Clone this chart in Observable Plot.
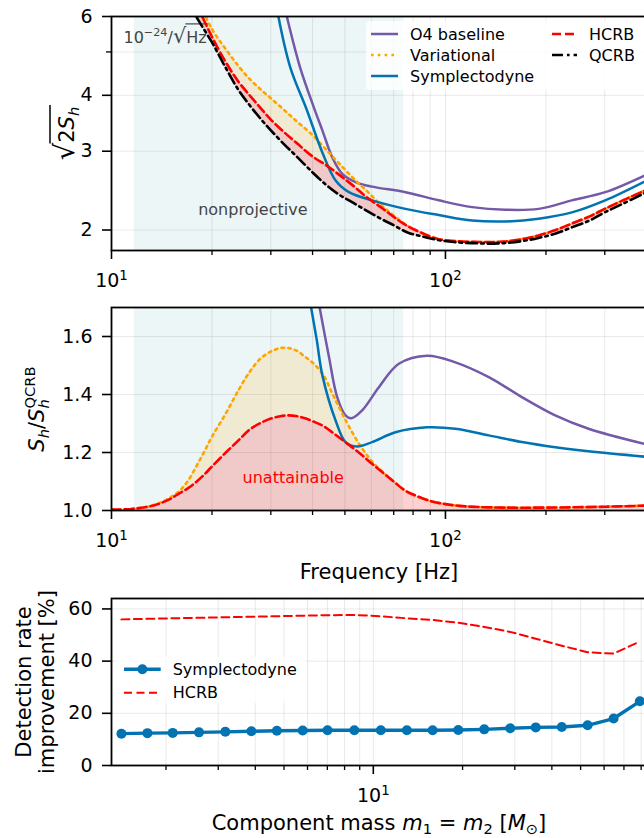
<!DOCTYPE html>
<html><head><meta charset="utf-8">
<script src="https://cdn.jsdelivr.net/npm/d3@7"></script>
<script src="https://cdn.jsdelivr.net/npm/@observablehq/plot@0.6"></script>
<style>
html,body{margin:0;padding:0;background:#fff;overflow:hidden;width:644px;height:838px}
#chart{width:700px}
#chart svg{display:block;max-width:none !important;width:700px !important}
</style></head><body><div id="chart"></div>
<script>
// ================= DATA =================
const freqDomain = [10, 400];
const nonprojectiveBand = [11.7, 75];
const freqMajorTicks = [10, 100];
const freqMinorTicks = [20, 30, 40, 50, 60, 70, 80, 90, 200, 300];

// Panel 1: sqrt(2 S_h) in 1e-24 / sqrt(Hz)
const asdDomain = [1.8, 6];
const asdTicks = [2, 3, 4, 6];
const asdMinorTicks = [5];
const freqBound = [18, 18.5, 20, 22, 24, 26, 28, 30, 33, 36, 40, 44, 48, 53, 58, 64, 70, 77, 85, 95, 106, 120, 135, 150, 170, 190, 215, 240, 270, 300, 340, 400];
const asdQCRB = [5.97, 5.77, 5.25, 4.60, 4.11, 3.79, 3.54, 3.34, 3.10, 2.91, 2.69, 2.52, 2.40, 2.30, 2.21, 2.12, 2.05, 1.975, 1.936, 1.90, 1.88, 1.87, 1.865, 1.87, 1.89, 1.92, 1.967, 2.03, 2.10, 2.19, 2.29, 2.43];
const asdHCRB = [6.33, 6.09, 5.40, 4.74, 4.29, 3.99, 3.74, 3.53, 3.30, 3.12, 2.92, 2.79, 2.66, 2.51, 2.37, 2.25, 2.14, 2.04, 1.97, 1.91, 1.89, 1.882, 1.88, 1.885, 1.91, 1.945, 2.003, 2.07, 2.145, 2.23, 2.33, 2.46];
const asdVariational = [6.56, 6.33, 5.62, 5.07, 4.65, 4.34, 4.12, 3.94, 3.70, 3.49, 3.26, 3.02, 2.82, 2.61, 2.45, 2.28, 2.155, 2.045, 1.97, 1.91, 1.89, 1.882, 1.88, 1.885, 1.91, 1.945, 2.003, 2.07, 2.145, 2.23, 2.33, 2.46];
const freqO4Asd = [33.5, 36.7, 40.3, 42.8, 45.8, 49.1, 53.8, 60.3, 75.9, 95.5, 120.2, 151.1, 190.1, 239.1, 300.8, 400];
const asdO4 = [6.0, 4.62, 3.77, 3.34, 2.91, 2.67, 2.56, 2.50, 2.43, 2.33, 2.25, 2.22, 2.23, 2.33, 2.43, 2.66];
const freqSymAsd = [31.6, 34.3, 38.5, 42.8, 46.9, 51.4, 60.3, 75.9, 95.5, 120.2, 151.1, 190.1, 239.1, 300.8, 400];
const asdSym = [6.0, 4.62, 3.70, 2.98, 2.58, 2.43, 2.33, 2.23, 2.16, 2.10, 2.09, 2.12, 2.19, 2.33, 2.58];

// Panel 2: S_h / S_h^QCRB
const ratioDomain = [1.0, 1.7];
const ratioTicks = [1.0, 1.2, 1.4, 1.6];
const freqRatio = [10, 11, 12, 13, 14, 15, 16, 17, 18, 19, 20, 22, 24, 26, 28, 30, 32, 34, 36, 38, 40, 43, 46, 50, 55, 60, 65, 70, 75, 80, 90, 100, 110, 125, 150, 200, 300, 400];
const ratioHCRB = [1.003, 1.004, 1.008, 1.014, 1.025, 1.040, 1.060, 1.078, 1.100, 1.125, 1.152, 1.200, 1.242, 1.280, 1.302, 1.317, 1.325, 1.328, 1.325, 1.318, 1.308, 1.292, 1.268, 1.237, 1.200, 1.163, 1.130, 1.100, 1.072, 1.055, 1.033, 1.022, 1.016, 1.012, 1.010, 1.010, 1.013, 1.017];
const ratioVariational = [1.003, 1.004, 1.008, 1.015, 1.027, 1.045, 1.068, 1.105, 1.155, 1.205, 1.255, 1.335, 1.415, 1.480, 1.525, 1.548, 1.560, 1.560, 1.550, 1.530, 1.510, 1.469, 1.400, 1.316, 1.232, 1.172, 1.132, 1.100, 1.072, 1.055, 1.033, 1.022, 1.016, 1.012, 1.010, 1.010, 1.013, 1.017];
const freqO4Ratio = [42.0, 44.8, 47.4, 50.2, 52.3, 56.3, 63.2, 72.5, 88.1, 107.1, 134.8, 169.4, 213.1, 268.3, 400];
const ratioO4 = [1.70, 1.529, 1.391, 1.328, 1.318, 1.345, 1.425, 1.506, 1.534, 1.511, 1.460, 1.391, 1.328, 1.282, 1.228];
const freqSymRatio = [39.6, 41.2, 42.8, 46.9, 50.2, 54.4, 60.3, 70.8, 88.1, 107.1, 134.8, 169.4, 213.1, 268.3, 400];
const ratioSym = [1.70, 1.586, 1.466, 1.31, 1.236, 1.221, 1.236, 1.27, 1.287, 1.282, 1.259, 1.236, 1.218, 1.204, 1.185];

// Panel 3: detection-rate improvement (%) vs component mass
const massDomain = [1.31, 83.4];
const massMajorTicks = [10];
const massMinorTicks = [2, 3, 4, 5, 6, 7, 8, 9, 20, 30, 40, 50, 60, 70, 80];
const rateDomain = [0, 64];
const rateTicks = [0, 20, 40, 60];
const massPts = [1.415, 1.731, 2.107, 2.584, 3.171, 3.88, 4.73, 5.78, 7.01, 8.63, 10.6, 12.98, 15.85, 19.34, 23.66, 28.95, 35.3, 43.2, 52.8, 64.6, 79.2];
const rateSym = [12.2, 12.4, 12.5, 12.7, 12.9, 13.1, 13.3, 13.4, 13.5, 13.5, 13.5, 13.5, 13.5, 13.6, 13.85, 14.3, 14.6, 14.75, 15.4, 18.0, 24.6];
const rateHCRB = [56.0, 56.2, 56.4, 56.6, 56.8, 57.0, 57.2, 57.4, 57.6, 57.7, 57.2, 56.4, 55.8, 54.7, 53.1, 51.2, 48.6, 45.9, 43.4, 42.9, 47.5];

// annotation anchors (data space)
const nonprojectiveAt = {f: 26.5, v: 2.22};
const unattainableAt = {f: 35, v: 1.114};

// ================= STYLE =================
const C = {o4: "#7459a8", variational: "#ffa500", sym: "#0173b2", hcrb: "#ff0000", qcrb: "#000000"};
const FONT = "'DejaVu Sans', sans-serif";
const NS = "http://www.w3.org/2000/svg";
const W = 700, ML = 111, MR = 54;
const curve = "catmull-rom";
const dashHCRB = "9,4", dotVar = "2.6,4.2", dashQCRB = "11,4,2.6,4";

const zip = (xs, ys) => xs.map((x, i) => ({x, y: ys[i]}));
const boundRows = freqBound.map((f, i) => ({f, q: asdQCRB[i], h: asdHCRB[i], v: asdVariational[i]}));
const ratioRows = freqRatio.map((f, i) => ({f, h: ratioHCRB[i], v: ratioVariational[i], one: 1}));
const baseStyle = {fontFamily: FONT, fontSize: "19px", color: "black", background: "white", overflow: "visible", maxWidth: "none"};
const gridOpts = {stroke: "black", strokeOpacity: 0.085, strokeWidth: 1};

function xAxes(major, minor, fmt) {
  return [
    Plot.axisX({ticks: minor, tickFormat: () => "", tickSize: 5, strokeWidth: 1.3, label: null}),
    Plot.axisX({ticks: major, tickFormat: fmt, tickSize: 9, tickPadding: 14, strokeWidth: 1.6, label: null})
  ];
}
const supFmt = d => d === 10 ? "TICK10E1" : d === 100 ? "TICK10E2" : String(d);

// ---------- Panel 1 ----------
const p1 = Plot.plot({
  width: W, height: 290, marginTop: 16, marginBottom: 40, marginLeft: ML, marginRight: MR,
  style: baseStyle,
  x: {type: "log", domain: freqDomain},
  y: {type: "log", domain: asdDomain},
  marks: [
    Plot.gridX({ticks: freqMinorTicks.concat(freqMajorTicks), ...gridOpts}),
    Plot.gridY({ticks: asdTicks.concat(asdMinorTicks), ...gridOpts}),
    Plot.rect([nonprojectiveBand], {x1: d => d[0], x2: d => d[1], fill: "teal", fillOpacity: 0.07}),
    Plot.areaY(boundRows, {x: "f", y1: "q", y2: "h", fill: "red", fillOpacity: 0.18, curve, clip: true}),
    Plot.areaY(boundRows, {x: "f", y1: "h", y2: "v", fill: "orange", fillOpacity: 0.15, curve, clip: true}),
    Plot.text(["UNIT"], {frameAnchor: "top-left", dx: 12, dy: 21, textAnchor: "start", lineAnchor: "middle", fontSize: 16, fill: "#444"}),
    Plot.text(["nonprojective"], {x: () => nonprojectiveAt.f, y: () => nonprojectiveAt.v, textAnchor: "middle", lineAnchor: "middle", fontSize: 16, fill: "#444"}),
    Plot.line(zip(freqO4Asd, asdO4), {x: "x", y: "y", stroke: C.o4, strokeWidth: 2.5, curve, clip: true}),
    Plot.line(boundRows, {x: "f", y: "v", stroke: C.variational, strokeWidth: 2.6, strokeDasharray: dotVar, curve, clip: true}),
    Plot.line(zip(freqSymAsd, asdSym), {x: "x", y: "y", stroke: C.sym, strokeWidth: 2.5, curve, clip: true}),
    Plot.line(boundRows, {x: "f", y: "h", stroke: C.hcrb, strokeWidth: 2.6, strokeDasharray: dashHCRB, curve, clip: true}),
    Plot.line(boundRows, {x: "f", y: "q", stroke: C.qcrb, strokeWidth: 2.6, strokeDasharray: dashQCRB, curve, clip: true}),
    ...xAxes(freqMajorTicks, freqMinorTicks, supFmt),
    Plot.axisY({ticks: asdMinorTicks, tickFormat: () => "", tickSize: 5, strokeWidth: 1.3, label: null}),
    Plot.axisY({ticks: asdTicks, tickFormat: d => String(d), tickSize: 9, tickPadding: 10, strokeWidth: 1.6, label: null}),
    Plot.text(["YLAB1"], {frameAnchor: "left", dx: -44.7, rotate: -90, textAnchor: "middle", lineAnchor: "middle", fontSize: 21}),
    Plot.frame({stroke: "black", strokeWidth: 1.8})
  ]
});

// ---------- Panel 2 ----------
const p2 = Plot.plot({
  width: W, height: 300, marginTop: 17, marginBottom: 80, marginLeft: ML, marginRight: MR,
  style: baseStyle,
  x: {type: "log", domain: freqDomain},
  y: {domain: ratioDomain},
  marks: [
    Plot.gridX({ticks: freqMinorTicks.concat(freqMajorTicks), ...gridOpts}),
    Plot.gridY({ticks: ratioTicks, ...gridOpts}),
    Plot.rect([nonprojectiveBand], {x1: d => d[0], x2: d => d[1], fill: "teal", fillOpacity: 0.07}),
    Plot.areaY(ratioRows, {x: "f", y1: "one", y2: "h", fill: "red", fillOpacity: 0.18, curve, clip: true}),
    Plot.areaY(ratioRows, {x: "f", y1: "h", y2: "v", fill: "orange", fillOpacity: 0.15, curve, clip: true}),
    Plot.text(["unattainable"], {x: () => unattainableAt.f, y: () => unattainableAt.v, textAnchor: "middle", lineAnchor: "middle", fontSize: 16, fill: "red"}),
    Plot.line(zip(freqO4Ratio, ratioO4), {x: "x", y: "y", stroke: C.o4, strokeWidth: 2.5, curve, clip: true}),
    Plot.line(ratioRows, {x: "f", y: "v", stroke: C.variational, strokeWidth: 2.6, strokeDasharray: dotVar, curve, clip: true}),
    Plot.line(zip(freqSymRatio, ratioSym), {x: "x", y: "y", stroke: C.sym, strokeWidth: 2.5, curve, clip: true}),
    Plot.line(ratioRows, {x: "f", y: "h", stroke: C.hcrb, strokeWidth: 2.6, strokeDasharray: dashHCRB, curve, clip: true}),
    ...xAxes(freqMajorTicks, freqMinorTicks, supFmt),
    Plot.axisY({ticks: ratioTicks, tickFormat: d => d.toFixed(1), tickSize: 9, tickPadding: 10, strokeWidth: 1.6, label: null}),
    Plot.text(["YLAB2"], {frameAnchor: "left", dx: -74.7, rotate: -90, textAnchor: "middle", lineAnchor: "middle", fontSize: 21}),
    Plot.text(["Frequency [Hz]"], {frameAnchor: "bottom", dy: 61.3, textAnchor: "middle", lineAnchor: "middle", fontSize: 21}),
    Plot.frame({stroke: "black", strokeWidth: 1.8})
  ]
});

// ---------- Panel 3 ----------
const p3 = Plot.plot({
  width: W, height: 248, marginTop: 8, marginBottom: 73, marginLeft: ML, marginRight: MR,
  style: baseStyle,
  x: {type: "log", domain: massDomain},
  y: {domain: rateDomain},
  marks: [
    Plot.gridX({ticks: massMinorTicks.concat(massMajorTicks), ...gridOpts}),
    Plot.gridY({ticks: rateTicks, ...gridOpts}),
    Plot.line(zip(massPts, rateHCRB), {x: "x", y: "y", stroke: C.hcrb, strokeWidth: 2, strokeDasharray: "8,4.5", clip: true}),
    Plot.line(zip(massPts, rateSym), {x: "x", y: "y", stroke: C.sym, strokeWidth: 3.4, clip: true}),
    Plot.dot(zip(massPts, rateSym), {x: "x", y: "y", r: 5, fill: C.sym, clip: true}),
    ...xAxes(massMajorTicks, massMinorTicks, supFmt),
    Plot.axisY({ticks: rateTicks, tickFormat: d => String(d), tickSize: 9, tickPadding: 10, strokeWidth: 1.6, label: null}),
    Plot.text(["Detection rate"], {frameAnchor: "left", dx: -87.7, rotate: -90, textAnchor: "middle", lineAnchor: "middle", fontSize: 21}),
    Plot.text(["improvement [%]"], {frameAnchor: "left", dx: -64.7, rotate: -90, textAnchor: "middle", lineAnchor: "middle", fontSize: 21}),
    Plot.text(["XLAB3"], {frameAnchor: "bottom", dy: 57.5, textAnchor: "middle", lineAnchor: "middle", fontSize: 21}),
    Plot.frame({stroke: "black", strokeWidth: 1.8})
  ]
});

const host = document.getElementById("chart");
[p1, p2, p3].forEach(s => { s.style.maxWidth = "none"; host.appendChild(s); });

// ================= rich text helpers =================
function findTexts(svg, content) {
  return Array.from(svg.querySelectorAll("text")).filter(t => t.textContent === content);
}
function richEl(text, fs, parts, over) {
  while (text.firstChild) text.removeChild(text.firstChild);
  let shift = 0, idx = 0;
  const spans = [];
  parts.forEach(p => {
    const ts = document.createElementNS(NS, "tspan");
    ts.textContent = p.t;
    const target = p.sub ? (p.lift ?? 0.26) : p.sup ? -(p.lift ?? 0.42) : 0;
    const dy = (target - shift) * fs;
    if (Math.abs(dy) > 1e-6) ts.setAttribute("dy", dy.toFixed(2));
    shift = target;
    if (p.dx) ts.setAttribute("dx", (p.dx * fs).toFixed(2));
    if (p.s) ts.setAttribute("font-size", (p.s * fs).toFixed(2));
    if (p.it) ts.setAttribute("font-style", "italic");
    text.appendChild(ts);
    spans.push({start: idx, end: idx + p.t.length - 1});
    idx += p.t.length;
  });
  if (over) {
    const a = text.getStartPositionOfChar(spans[over.from].start);
    const b = text.getEndPositionOfChar(spans[over.to].end);
    const base = a.y;
    const line = document.createElementNS(NS, "line");
    line.setAttribute("x1", (a.x - over.pre * fs).toFixed(2));
    line.setAttribute("x2", (b.x + over.post * fs).toFixed(2));
    line.setAttribute("y1", (base - over.k * fs).toFixed(2));
    line.setAttribute("y2", (base - over.k * fs).toFixed(2));
    line.setAttribute("stroke", over.color || "black");
    line.setAttribute("stroke-width", over.w);
    const tr = text.getAttribute("transform");
    if (tr) line.setAttribute("transform", tr);
    text.parentNode.appendChild(line);
  }
}
function rich(svg, content, fs, parts, over) {
  findTexts(svg, content).forEach(t => richEl(t, fs, parts, over));
}

[p1, p2, p3].forEach(svg => {
  rich(svg, "TICK10E1", 19, [{t: "10"}, {t: "1", sup: true, s: 0.7, lift: 0.37}]);
  rich(svg, "TICK10E2", 19, [{t: "10"}, {t: "2", sup: true, s: 0.7, lift: 0.37}]);
});

rich(p1, "UNIT", 16, [
  {t: "10"}, {t: "−24", sup: true, s: 0.7}, {t: "/"}, {t: "√", s: 1.3}, {t: "Hz"}
], {from: 4, to: 4, pre: 0.05, post: 0.2, k: 1.17, w: 1.2, color: "#444"});

rich(p1, "YLAB1", 21, [
  {t: "√", s: 1.3}, {t: "2"}, {t: "S", it: true}, {t: "h", it: true, sub: true, s: 0.7}
], {from: 1, to: 3, pre: 0.03, post: 0.08, k: 1.12, w: 1.5});

rich(p2, "YLAB2", 21, [
  {t: "S", it: true}, {t: "h", it: true, sub: true, s: 0.7}, {t: "/"}, {t: "S", it: true},
  {t: "h", it: true, sub: true, s: 0.7}, {t: "QCRB", sup: true, s: 0.7, dx: -0.44}
]);

rich(p3, "XLAB3", 21, [
  {t: "Component mass "}, {t: "m", it: true}, {t: "1", sub: true, s: 0.7, lift: 0.2}, {t: " = "},
  {t: "m", it: true}, {t: "2", sub: true, s: 0.7, lift: 0.2}, {t: " ["}, {t: "M", it: true},
  {t: "⊙", sub: true, s: 0.7, lift: 0.2}, {t: "]"}
]);

// ================= legends =================
function legend(svg, box, items) {
  const g = d3.select(svg).append("g").attr("font-family", FONT).attr("font-size", 16).attr("text-anchor", "start");
  g.append("rect").attr("x", box.x).attr("y", box.y).attr("width", box.w).attr("height", box.h)
    .attr("rx", 4).attr("fill", "white").attr("fill-opacity", 0.8);
  items.forEach(it => {
    g.append("line").attr("x1", it.x0).attr("x2", it.x1).attr("y1", it.y).attr("y2", it.y)
      .attr("stroke", it.color).attr("stroke-width", it.w).attr("stroke-dasharray", it.dash || null);
    if (it.marker) g.append("circle").attr("cx", (it.x0 + it.x1) / 2).attr("cy", it.y).attr("r", it.marker).attr("fill", it.color);
    g.append("text").attr("x", it.tx).attr("y", it.y).attr("dy", "0.36em").attr("fill", "black").attr("text-anchor", "start").text(it.label);
  });
}
legend(p1, {x: 366, y: 21, w: 290, h: 69}, [
  {label: "O4 baseline", color: C.o4, w: 2.5, x0: 371, x1: 398, tx: 410, y: 34},
  {label: "Variational", color: C.variational, w: 2.6, dash: dotVar, x0: 371, x1: 398, tx: 410, y: 55},
  {label: "Symplectodyne", color: C.sym, w: 2.5, x0: 371, x1: 398, tx: 410, y: 76},
  {label: "HCRB", color: C.hcrb, w: 2.6, dash: dashHCRB, x0: 552, x1: 577, tx: 589, y: 34},
  {label: "QCRB", color: C.qcrb, w: 2.6, dash: dashQCRB, x0: 552, x1: 577, tx: 589, y: 55}
]);
legend(p3, {x: 116, y: 67, w: 190, h: 46}, [
  {label: "Symplectodyne", color: C.sym, w: 3.4, marker: 5, x0: 124, x1: 160.7, tx: 172.7, y: 79.3},
  {label: "HCRB", color: C.hcrb, w: 2, dash: "8,4.5", x0: 124, x1: 160.7, tx: 172.7, y: 102.7}
]);
</script></body></html>
